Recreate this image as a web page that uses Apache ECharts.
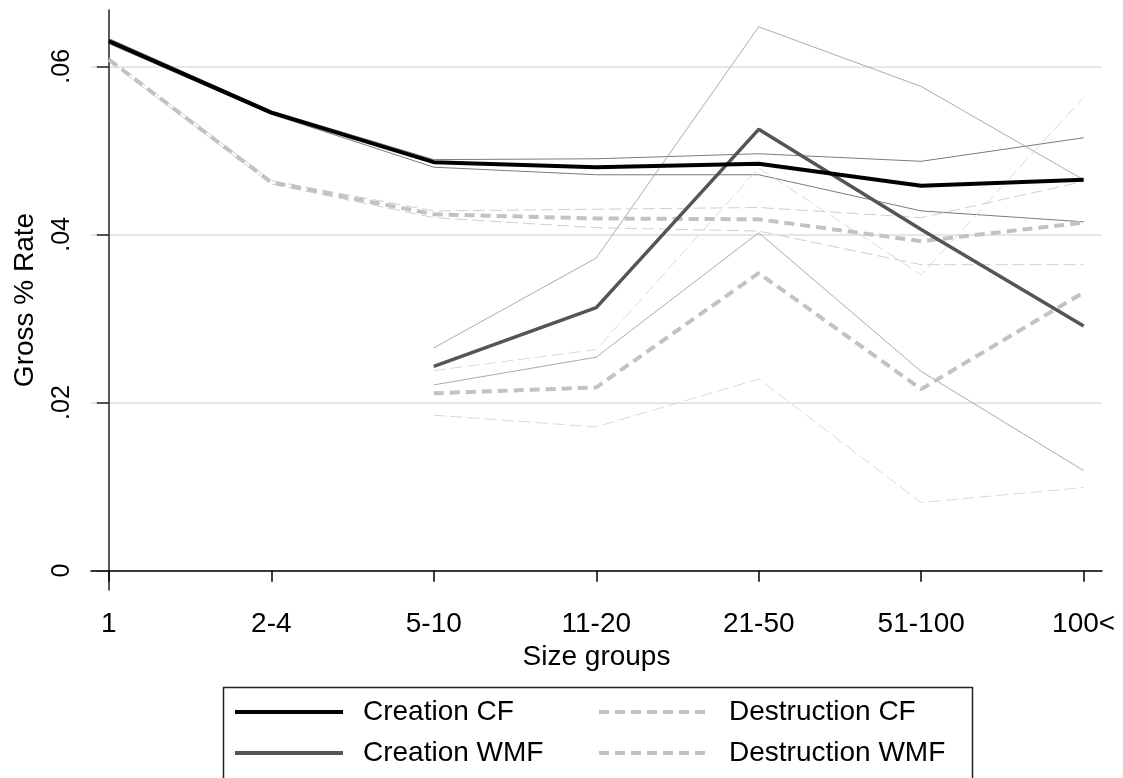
<!DOCTYPE html>
<html>
<head>
<meta charset="utf-8">
<script src="https://cdn.jsdelivr.net/npm/echarts@6/dist/echarts.min.js"></script>
<style>
  html, body { margin: 0; padding: 0; background: #fff; }
  #chart { width: 1123px; height: 778px; }
</style>
</head>
<body>
<div id="chart"></div>
<script>
const categories = ['1', '2-4', '5-10', '11-20', '21-50', '51-100', '100<'];
const yTicks = [0, 0.02, 0.04, 0.06];

// main estimates
const creationCF = [0.0630, 0.0545, 0.0486, 0.0480, 0.0484, 0.0458, 0.0465];
const creationWMF = [null, null, 0.0243, 0.0313, 0.0525, 0.0406, 0.0291];
const destructionCF = [0.0608, 0.0462, 0.0424, 0.0419, 0.0418, 0.0392, 0.0414];
const destructionWMF = [null, null, 0.0211, 0.0218, 0.0354, 0.0216, 0.0331];

// confidence bands (upper / lower)
const creationCFHi = [0.0633, 0.0547, 0.0489, 0.0490, 0.0496, 0.0487, 0.0515];
const creationCFLo = [0.0627, 0.0543, 0.0480, 0.0471, 0.0471, 0.0428, 0.0415];
const creationWMFHi = [null, null, 0.0265, 0.0372, 0.0647, 0.0576, 0.0465];
const creationWMFLo = [null, null, 0.0221, 0.0254, 0.0402, 0.0237, 0.0119];
const destructionCFHi = [0.0610, 0.0464, 0.0428, 0.0430, 0.0432, 0.0420, 0.0463];
const destructionCFLo = [0.0606, 0.0460, 0.0420, 0.0408, 0.0404, 0.0364, 0.0364];
const destructionWMFHi = [null, null, 0.0238, 0.0263, 0.0479, 0.0352, 0.0563];
const destructionWMFLo = [null, null, 0.0185, 0.0171, 0.0228, 0.0081, 0.0099];

const font = "'Liberation Sans', Arial, sans-serif";
const pts = arr => arr.map((v, i) => [i, v]);

function band(name, data, color, dashed) {
  return {
    name: name, type: 'line', data: pts(data), symbol: 'none', z: 2,
    silent: true, color: color,
    lineStyle: { color: color, width: 1, type: dashed ? [12, 5] : 'solid' }
  };
}
function main(name, data, color, width, dashed) {
  return {
    name: name, type: 'line', data: pts(data), symbol: 'none', z: 3,
    color: color,
    lineStyle: { color: color, width: width, type: dashed ? [10, 6] : 'solid' }
  };
}

const legendBase = {
  orient: 'vertical', top: 698, padding: 0,
  itemHeight: 28, itemGap: 13,
  selectedMode: false,
  itemStyle: { opacity: 0 },
  lineStyle: { width: 4 },
  textStyle: { fontSize: 28, color: '#000', fontFamily: font, padding: [0, 0, 0, 15] }
};

const option = {
  animation: false,
  textStyle: { fontFamily: font },
  grid: { left: 91, right: 21, top: 10, bottom: 188 },
  xAxis: {
    type: 'value',
    min: -0.11,
    max: 6.113,
    name: 'Size groups',
    nameLocation: 'middle',
    nameGap: 50,
    nameTextStyle: { fontSize: 28, color: '#000', fontFamily: font },
    axisLine: { lineStyle: { color: '#000', width: 1.5 } },
    axisTick: { customValues: [0, 1, 2, 3, 4, 5, 6], length: 11, lineStyle: { color: '#000', width: 1.5 } },
    axisLabel: {
      customValues: [0, 1, 2, 3, 4, 5, 6],
      formatter: v => categories[Math.round(v)],
      fontSize: 28, color: '#000', margin: 20, fontFamily: font
    },
    splitLine: { show: false }
  },
  yAxis: {
    type: 'value',
    min: -0.0023,
    max: 0.0667,
    name: 'Gross % Rate',
    nameLocation: 'middle',
    nameGap: 52,
    nameTextStyle: { fontSize: 28, color: '#000', fontFamily: font },
    axisLine: { show: true, lineStyle: { color: '#222', width: 1.5 } },
    axisTick: { show: true, customValues: yTicks, length: 12, lineStyle: { color: '#222', width: 1.5 } },
    axisLabel: {
      customValues: yTicks,
      rotate: 90,
      formatter: v => v === 0 ? '0' : String(+v.toFixed(2)).replace('0.', '.'),
      fontSize: 25, color: '#000', margin: 16, fontFamily: font
    },
    splitLine: { show: true, lineStyle: { color: '#e6e6e6', width: 2 } }
  },
  legend: [
    Object.assign({}, legendBase, {
      data: ['Creation CF', 'Creation WMF'], left: 233, itemWidth: 108
    }),
    Object.assign({}, legendBase, {
      data: ['Destruction CF', 'Destruction WMF'], left: 597, itemWidth: 110
    })
  ],
  graphic: [{
    type: 'rect', left: 221, top: 685, silent: true,
    shape: { width: 749, height: 110 },
    style: { fill: 'none', stroke: '#222', lineWidth: 1.5 }
  }],
  series: [
    band('CF creation hi', creationCFHi, '#7a7a7a', false),
    band('CF creation lo', creationCFLo, '#7a7a7a', false),
    band('WMF creation hi', creationWMFHi, '#ababab', false),
    band('WMF creation lo', creationWMFLo, '#ababab', false),
    band('CF destruction hi', destructionCFHi, '#cfcfcf', true),
    band('CF destruction lo', destructionCFLo, '#cfcfcf', true),
    band('WMF destruction hi', destructionWMFHi, '#d8d8d8', true),
    band('WMF destruction lo', destructionWMFLo, '#d8d8d8', true),
    main('Destruction CF', destructionCF, '#c2c2c2', 4, true),
    main('Destruction WMF', destructionWMF, '#c2c2c2', 4, true),
    main('Creation WMF', creationWMF, '#555555', 3.5, false),
    main('Creation CF', creationCF, '#000000', 4, false)
  ]
};

const chart = echarts.init(document.getElementById('chart'));
chart.setOption(option);
window.addEventListener('resize', () => chart.resize());
</script>
</body>
</html>
